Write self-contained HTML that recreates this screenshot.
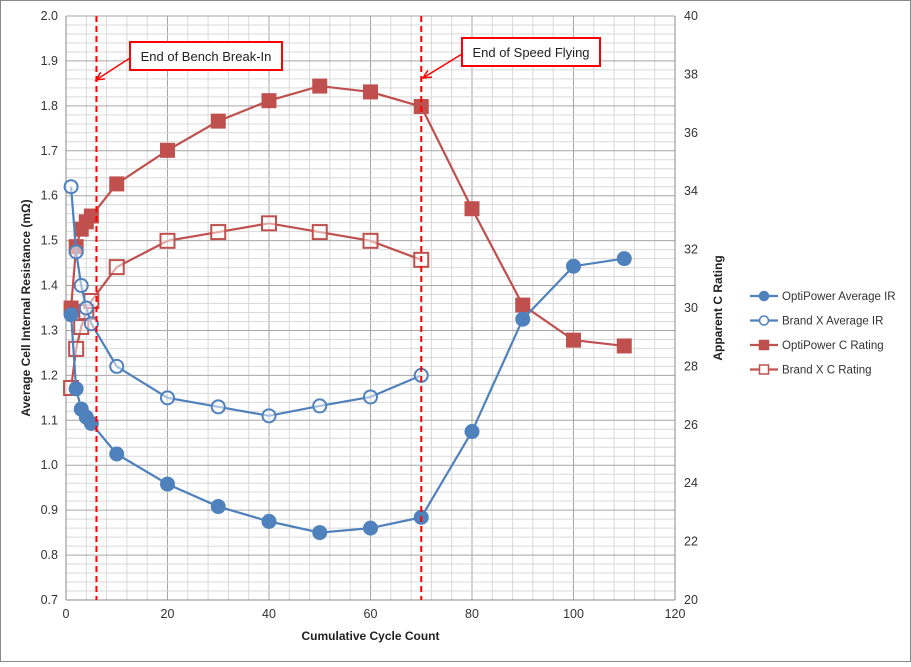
<!DOCTYPE html>
<html><head><meta charset="utf-8"><style>
body{margin:0;background:#fff;font-family:"Liberation Sans",Arial,sans-serif}
svg text{font-family:"Liberation Sans",Arial,sans-serif}
</style></head><body>
<svg id="c" width="911" height="662">
<rect x="0.5" y="0.5" width="910" height="661" fill="#fff" stroke="#888"/>
<g id="grid"></g><g id="axes"></g><g id="series"></g><g id="legend"></g><g id="ann"></g>
</svg>
<script>
const xCats=[1,2,3,4,5,10,20,30,40,50,60,70,80,90,100,110];
const optiIR=[1.335,1.17,1.125,1.107,1.093,1.025,0.958,0.908,0.875,0.85,0.86,0.884,1.075,1.325,1.443,1.46];
const brandXCats=[1,2,3,4,5,10,20,30,40,50,60,70];
const brandIR=[1.62,1.475,1.40,1.35,1.315,1.22,1.15,1.13,1.11,1.132,1.152,1.20];
const optiC=[30,32.1,32.7,32.95,33.15,34.25,35.4,36.4,37.1,37.6,37.4,36.9,33.4,30.1,28.9,28.7];
const brandC=[27.26,28.6,29.35,29.86,30.24,31.4,32.3,32.6,32.9,32.6,32.3,31.65];
const xTicks=[0,20,40,60,80,100,120];
const yTicks=[0.7,0.8,0.9,1.0,1.1,1.2,1.3,1.4,1.5,1.6,1.7,1.8,1.9,2.0];
const y2Ticks=[20,22,24,26,28,30,32,34,36,38,40];
const markers=[6,70];
const L=66,R=675,T=16,B=600;
const X=v=>L+(v/120)*(R-L);
const Y=v=>B-(v-0.7)/1.3*(B-T);
const Y2=v=>B-(v-20)/20*(B-T);
const NS='http://www.w3.org/2000/svg';
function mk(p,t,a){const e=document.createElementNS(NS,t);for(const k in a)e.setAttribute(k,a[k]);p.appendChild(e);return e;}
const grid=document.getElementById('grid'),axes=document.getElementById('axes'),ser=document.getElementById('series'),leg=document.getElementById('legend'),ann=document.getElementById('ann');
for(let v=0;v<=120;v+=4){const l=mk(grid,'line',{x1:X(v),x2:X(v),y1:T,y2:B,stroke:v%20==0?'#a6a6a6':'#d9d9d9','stroke-width':1});
}
for(let i=0;i<=65;i++){const v=0.7+i*0.02;const l=mk(grid,'line',{x1:L,x2:R,y1:Y(v),y2:Y(v),stroke:i%5==0?'#a6a6a6':'#d9d9d9','stroke-width':1});
}
mk(axes,'line',{x1:L,x2:L,y1:T,y2:B,stroke:'#888'});mk(axes,'line',{x1:R,x2:R,y1:T,y2:B,stroke:'#888'});mk(axes,'line',{x1:L,x2:R,y1:B,y2:B,stroke:'#888'});
xTicks.forEach(v=>{const t=mk(axes,'text',{x:X(v),y:B+18,'text-anchor':'middle','font-size':12.5,fill:'#333'});t.textContent=v;
});
yTicks.forEach(v=>{const t=mk(axes,'text',{x:L-8,y:Y(v)+4,'text-anchor':'end','font-size':12.5,fill:'#333'});t.textContent=v.toFixed(1);
});
y2Ticks.forEach(v=>{const t=mk(axes,'text',{x:R+9,y:Y2(v)+4,'font-size':12.5,fill:'#333'});t.textContent=v;
});
let t=mk(axes,'text',{x:(L+R)/2,y:640,'text-anchor':'middle','font-size':12,'font-weight':'bold',fill:'#222'});t.textContent='Cumulative Cycle Count';

t=mk(axes,'text',{x:0,y:0,'text-anchor':'middle','font-size':12,'font-weight':'bold',fill:'#222',transform:`translate(30,${(T+B)/2}) rotate(-90)`});t.textContent='Average Cell Internal Resistance (mΩ)';

t=mk(axes,'text',{x:0,y:0,'text-anchor':'middle','font-size':12,'font-weight':'bold',fill:'#222',transform:`translate(722,${(T+B)/2}) rotate(-90)`});t.textContent='Apparent C Rating';

markers.forEach(v=>{const l=mk(ann,'line',{x1:X(v),x2:X(v),y1:T,y2:B,stroke:'#f00','stroke-width':2,'stroke-dasharray':'6,4'});
});
function series(xs,ys,yf,color,shape,filled,name){
 const pts=xs.map((x,i)=>X(x)+','+yf(ys[i])).join(' ');
 const pl=mk(ser,'polyline',{points:pts,fill:'none',stroke:color,'stroke-width':2.2});
 
 xs.forEach((x,i)=>{const cx=X(x),cy=yf(ys[i]);let m;
  if(shape=='c')m=mk(ser,'circle',{cx,cy,r:filled?7:6.5,fill:filled?color:'#fff',stroke:color,'stroke-width':filled?1:2,'fill-opacity':filled?1:0.5});
  else m=mk(ser,'rect',{x:cx-7,y:cy-7,width:14,height:14,fill:filled?color:'#fff',stroke:color,'stroke-width':filled?1:2,'fill-opacity':filled?1:0.5});
  });
}
series(xCats,optiC,Y2,'#c0504d','s',true,'optipower-c-rating');
series(brandXCats,brandC,Y2,'#c0504d','s',false,'brandx-c-rating');
series(xCats,optiIR,Y,'#4f81bd','c',true,'optipower-ir');
series(brandXCats,brandIR,Y,'#4f81bd','c',false,'brandx-ir');
const legItems=[['OptiPower Average IR','#4f81bd','c',true],['Brand X Average IR','#4f81bd','c',false],['OptiPower C Rating','#c0504d','s',true],['Brand X C Rating','#c0504d','s',false]];
legItems.forEach((it,i)=>{const y=296+i*24.5;const g=mk(leg,'g',{});
 
 mk(g,'line',{x1:750,x2:778,y1:y,y2:y,stroke:it[1],'stroke-width':2.2});
 if(it[2]=='c')mk(g,'circle',{cx:764,cy:y,r:4.5,fill:it[3]?it[1]:'#fff',stroke:it[1],'stroke-width':1.5});
 else mk(g,'rect',{x:759.5,y:y-4.5,width:9,height:9,fill:it[3]?it[1]:'#fff',stroke:it[1],'stroke-width':1.5});
 const tx=mk(g,'text',{x:782,y:y+4,'font-size':11.5,fill:'#333'});tx.textContent=it[0];});
function box(x,y,w,h,txt,ax1,ay1,ax2,ay2,name){
 const g=mk(ann,'g',{});
 mk(g,'line',{x1:ax1,y1:ay1,x2:ax2,y2:ay2,stroke:'#f00','stroke-width':1.5});
 const a=Math.atan2(ay2-ay1,ax2-ax1),s=9;
 mk(g,'polyline',{points:`${ax2-s*Math.cos(a-0.45)},${ay2-s*Math.sin(a-0.45)} ${ax2},${ay2} ${ax2-s*Math.cos(a+0.45)},${ay2-s*Math.sin(a+0.45)}`,fill:'none',stroke:'#f00','stroke-width':1.5});
 mk(g,'rect',{x,y,width:w,height:h,fill:'#fff',stroke:'#f00','stroke-width':2});
 const tx=mk(g,'text',{x:x+w/2,y:y+h/2+5,'text-anchor':'middle','font-size':13,fill:'#222'});tx.textContent=txt;}
box(130,42,152,28,'End of Bench Break-In',130,58,96,80,'bench-break-in-annotation');
box(462,38,138,28,'End of Speed Flying',462,54,423,78,'speed-flying-annotation');
</script>
</body></html>
